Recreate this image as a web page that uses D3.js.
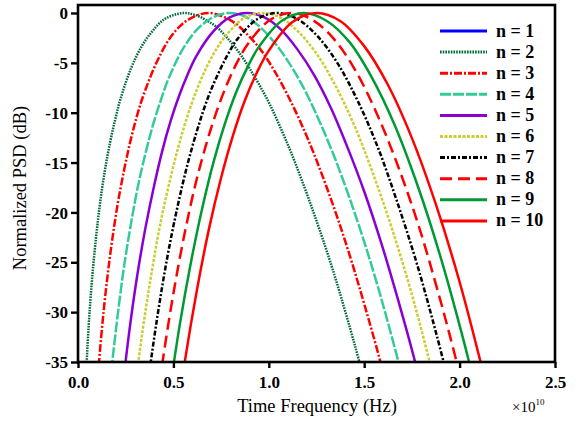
<!DOCTYPE html>
<html><head><meta charset="utf-8">
<script src="https://cdn.jsdelivr.net/npm/d3@7"></script>
<style>
html,body{margin:0;padding:0;background:#fff;}
</style></head>
<body><svg id="chart" width="581" height="423"></svg>
<script>
// ---- data (frequency in units of 1e10 Hz, PSD in dB) ----
const seriesLabels = ["n = 1","n = 2","n = 3","n = 4","n = 5","n = 6","n = 7","n = 8","n = 9","n = 10"];
const xTicks = [0, 0.5, 1.0, 1.5, 2.0, 2.5];
const yTicks = [0, -5, -10, -15, -20, -25, -30, -35];

const f2 = [0.034,0.045,0.056,0.067,0.084,0.112,0.140,0.168,0.196,0.223,0.279,0.335,0.391,0.447,0.503,0.559,0.614,0.670,0.726,0.782,0.838,0.894,0.950,1.006,1.061,1.117,1.229,1.341,1.452,1.508];
const p2 = [-40.2,-35.2,-31.4,-28.3,-24.5,-19.6,-15.9,-13.0,-10.6,-8.6,-5.5,-3.3,-1.8,-0.7,-0.2,0,-0.2,-0.7,-1.4,-2.5,-3.8,-5.4,-7.2,-9.2,-11.5,-14.0,-19.7,-26.1,-33.4,-37.4];
const f3 = [0.082,0.103,0.120,0.137,0.154,0.171,0.205,0.240,0.274,0.308,0.342,0.411,0.479,0.547,0.616,0.684,0.753,0.821,0.890,0.958,1.026,1.095,1.163,1.232,1.300,1.368,1.437,1.505,1.574,1.642];
const p3 = [-42.4,-36.7,-32.8,-29.4,-26.5,-23.9,-19.5,-15.9,-12.9,-10.4,-8.3,-5.0,-2.6,-1.1,-0.3,0,-0.3,-1.0,-2.2,-3.7,-5.7,-8.1,-10.8,-13.9,-17.3,-21.0,-25.1,-29.5,-34.2,-39.2];
const f4 = [0.138,0.158,0.178,0.198,0.237,0.277,0.316,0.356,0.395,0.435,0.474,0.553,0.632,0.711,0.790,0.869,0.948,1.027,1.106,1.185,1.264,1.343,1.422,1.501,1.580,1.659,1.738];
const p4 = [-43.7,-39.2,-35.3,-31.9,-26.0,-21.2,-17.2,-13.9,-11.1,-8.7,-6.6,-3.5,-1.5,-0.4,0,-0.3,-1.3,-2.9,-5.0,-7.6,-10.8,-14.4,-18.5,-23.0,-28.0,-33.5,-39.3];
const f5 = [0.199,0.221,0.265,0.309,0.353,0.398,0.442,0.486,0.530,0.574,0.618,0.707,0.795,0.883,0.972,1.060,1.148,1.237,1.325,1.413,1.502,1.590,1.678,1.767,1.855];
const p5 = [-44.2,-39.9,-32.5,-26.5,-21.6,-17.4,-13.8,-10.8,-8.3,-6.2,-4.4,-1.9,-0.45,0,-0.4,-1.6,-3.6,-6.2,-9.5,-13.5,-18.0,-23.1,-28.8,-35.0,-41.8];
const f6 = [0.242,0.290,0.339,0.387,0.435,0.484,0.532,0.581,0.629,0.677,0.726,0.774,0.871,0.968,1.064,1.161,1.258,1.355,1.451,1.548,1.645,1.742,1.838,1.935];
const p6 = [-47.8,-39.0,-31.8,-25.9,-20.8,-16.6,-13.0,-9.9,-7.4,-5.3,-3.6,-2.3,-0.5,0,-0.5,-2.0,-4.3,-7.5,-11.4,-16.2,-21.6,-27.7,-34.6,-42.0];
const f7 = [0.314,0.366,0.418,0.470,0.523,0.575,0.627,0.679,0.732,0.784,0.836,0.941,1.045,1.150,1.254,1.359,1.463,1.568,1.672,1.777,1.881,1.986];
const p7 = [-45.5,-37.2,-30.2,-24.3,-19.3,-15.1,-11.6,-8.6,-6.2,-4.2,-2.6,-0.6,0,-0.6,-2.3,-5.0,-8.7,-13.3,-18.9,-25.2,-32.4,-40.3];
const f8 = [0.391,0.447,0.503,0.559,0.614,0.670,0.726,0.782,0.838,0.894,1.006,1.117,1.229,1.341,1.452,1.564,1.676,1.788,1.899,1.955,2.011];
const p8 = [-42.5,-34.5,-27.8,-22.1,-17.3,-13.3,-9.9,-7.1,-4.8,-3.0,-0.7,0,-0.7,-2.6,-5.7,-10.0,-15.3,-21.5,-28.8,-32.8,-37.0];
const f9 = [0.474,0.533,0.593,0.652,0.711,0.770,0.830,0.889,0.948,1.067,1.185,1.304,1.422,1.541,1.659,1.778,1.896,2.015,2.074,2.133];
const p9 = [-38.8,-31.3,-24.9,-19.5,-14.9,-11.1,-7.9,-5.4,-3.4,-0.8,0,-0.8,-2.9,-6.5,-11.2,-17.2,-24.2,-32.4,-36.9,-41.6];
const f10 = [0.500,0.562,0.625,0.687,0.749,0.812,0.874,0.937,0.999,1.124,1.249,1.374,1.499,1.624,1.749,1.874,1.999,2.123,2.186];
const p10 = [-43.1,-34.7,-27.6,-21.6,-16.6,-12.3,-8.8,-6.0,-3.8,-0.9,0,-0.8,-3.3,-7.2,-12.5,-19.1,-26.9,-36.0,-41.0];

// ---- styles ----
const FONT = "'Liberation Serif', 'Times New Roman', serif";
const styles = [
  {color:"#0000ff", dash:null},
  {color:"#006b3a", dash:"1.6,1.1"},
  {color:"#ff0000", dash:"8,2,2,2"},
  {color:"#33cc99", dash:"11,2"},
  {color:"#8a00d4", dash:null},
  {color:"#cccc33", dash:"3,1.5"},
  {color:"#000000", dash:"5,2,2,2"},
  {color:"#ff0000", dash:"12,6"},
  {color:"#009933", dash:null},
  {color:"#ff0000", dash:null}
];
const seriesData = [null,[f2,p2],[f3,p3],[f4,p4],[f5,p5],[f6,p6],[f7,p7],[f8,p8],[f9,p9],[f10,p10]];

const svg = d3.select("#chart");
const L = 78, R = 555, T = 5, B = 362;
const x = d3.scaleLinear().domain([0, 2.5]).range([L, R]);
const y = d3.scaleLinear().domain([-35, 0.8]).range([B, T]);

svg.append("clipPath").attr("id","clip").append("rect")
  .attr("x", L).attr("y", T).attr("width", R - L).attr("height", B - T);

const line = d3.line().x(d => x(d[0])).y(d => y(d[1])).curve(d3.curveCatmullRom.alpha(0.5));
const g = svg.append("g").attr("clip-path","url(#clip)");
seriesData.forEach((s, i) => {
  if (!s) return;
  g.append("path").datum(d3.zip(s[0], s[1]))
    .attr("d", line).attr("fill","none")
    .attr("stroke", styles[i].color).attr("stroke-width", 2.5)
    .attr("stroke-dasharray", styles[i].dash);
});

// axes
const xAxis = svg.append("g").attr("transform",`translate(0,${B})`)
  .call(d3.axisBottom(x).tickValues(xTicks).tickFormat(d => d.toFixed(1)).tickSize(6).tickPadding(6));
const yAxis = svg.append("g").attr("transform",`translate(${L},0)`)
  .call(d3.axisLeft(y).tickValues(yTicks).tickFormat(d => String(d)).tickSize(7).tickPadding(3));
[xAxis, yAxis].forEach(a => {
  a.attr("font-family", null).attr("font-size", null);
  a.select(".domain").remove();
  a.selectAll(".tick line").attr("stroke","#000").attr("stroke-width",2.4);
  a.selectAll(".tick text").style("font-family", FONT)
    .style("font-size","17px").style("font-weight","bold").attr("fill","#000");
});
xAxis.selectAll(".tick text").attr("dy","0.82em");
yAxis.selectAll(".tick text").attr("dy","0.33em");

// frame
svg.append("rect").attr("x", L).attr("y", T).attr("width", R - L).attr("height", B - T)
  .attr("fill","none").attr("stroke","#000").attr("stroke-width",2.6);

// titles
svg.append("text").attr("x", 317).attr("y", 412).attr("text-anchor","middle")
  .style("font-family", FONT).style("font-size","18.5px").text("Time Frequency (Hz)");
const ex = svg.append("text").attr("x", 512).attr("y", 412)
  .style("font-family", FONT).style("font-size","15px");
ex.append("tspan").text("×10");
ex.append("tspan").style("font-size","9px").attr("dy",-7).text("10");
svg.append("text").attr("transform","translate(26,188) rotate(-90)")
  .attr("text-anchor","middle").style("font-family", FONT).style("font-size","18.5px")
  .text("Normalized PSD (dB)");

// legend
const lg = svg.append("g");
seriesLabels.forEach((lab, i) => {
  const yy = 31 + i * 21.1;
  lg.append("line").attr("x1",440).attr("x2",487).attr("y1",yy).attr("y2",yy)
    .attr("stroke", styles[i].color).attr("stroke-width",3)
    .attr("stroke-dasharray", styles[i].dash);
  lg.append("text").attr("x",496).attr("y",yy+5.5)
    .style("font-family", FONT).style("font-size","18px").style("font-weight","bold").text(lab);
});
</script></body></html>
